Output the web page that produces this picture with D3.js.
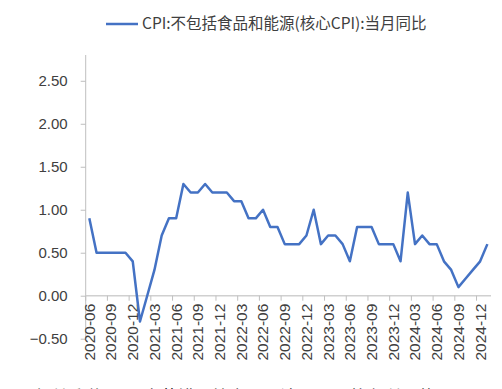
<!DOCTYPE html>
<html>
<head>
<meta charset="utf-8">
<script src="https://cdn.jsdelivr.net/npm/d3@7"></script>
<style>
  body { margin: 0; background: #fff; overflow: hidden; }
  text { font-family: "Noto Sans CJK SC", "Liberation Sans", sans-serif; }
  .num { font-family: "Liberation Sans", "Noto Sans CJK SC", sans-serif; }
</style>
</head>
<body>
<script>
// 核心CPI 当月同比 (%)
var months = [
  "2020-06","2020-07","2020-08","2020-09","2020-10","2020-11","2020-12",
  "2021-01","2021-02","2021-03","2021-04","2021-05","2021-06","2021-07","2021-08","2021-09","2021-10","2021-11","2021-12",
  "2022-01","2022-02","2022-03","2022-04","2022-05","2022-06","2022-07","2022-08","2022-09","2022-10","2022-11","2022-12",
  "2023-01","2023-02","2023-03","2023-04","2023-05","2023-06","2023-07","2023-08","2023-09","2023-10","2023-11","2023-12",
  "2024-01","2024-02","2024-03","2024-04","2024-05","2024-06","2024-07","2024-08","2024-09","2024-10","2024-11","2024-12",
  "2025-01"
];
var coreCpi = [
  0.9, 0.5, 0.5, 0.5, 0.5, 0.5, 0.4,
  -0.3, 0.0, 0.3, 0.7, 0.9, 0.9, 1.3, 1.2, 1.2, 1.3, 1.2, 1.2,
  1.2, 1.1, 1.1, 0.9, 0.9, 1.0, 0.8, 0.8, 0.6, 0.6, 0.6, 0.7,
  1.0, 0.6, 0.7, 0.7, 0.6, 0.4, 0.8, 0.8, 0.8, 0.6, 0.6, 0.6,
  0.4, 1.2, 0.6, 0.7, 0.6, 0.6, 0.4, 0.3, 0.1, 0.2, 0.3, 0.4,
  0.6
];
var yTicks = [-0.5, 0, 0.5, 1.0, 1.5, 2.0, 2.5];
var legendLabel = "CPI:不包括食品和能源(核心CPI):当月同比";
var noteText = "有所反弹，1月春节错月效应，预计2月CPI将有所回落，3月至";

var W = 502, H = 389;
var mLeft = 85.7, mRight = 491, mTop = 55, mBottom = 338.7;
var lineColor = "#4472C4", axisColor = "#BFBFBF", textColor = "#404040";

var svg = d3.select("body").append("svg")
    .attr("width", W)
    .attr("height", H);

var x = d3.scaleBand().domain(months).range([mLeft, mRight]).padding(0);
var y = d3.scaleLinear().domain([-0.5, 2.8]).range([mBottom, mTop]);
var cx = function(m){ return x(m) + x.bandwidth() / 2; };

// y 轴
var yAxis = d3.axisLeft(y)
    .tickValues(yTicks)
    .tickSize(5)
    .tickPadding(13)
    .tickFormat(d3.format(".2f"));
var yg = svg.append("g")
    .attr("transform", "translate(" + mLeft + ",0)")
    .call(yAxis);
yg.select(".domain").attr("stroke", axisColor).attr("d", "M0," + mTop + "V" + mBottom);
yg.selectAll(".tick line").attr("stroke", axisColor);
yg.selectAll(".tick text")
    .attr("class", "num")
    .attr("fill", textColor)
    .style("font-size", "15px");

// x 轴 (在 0 处)
var y0 = y(0);
svg.append("line")
    .attr("x1", mLeft).attr("x2", mRight)
    .attr("y1", y0).attr("y2", y0)
    .attr("stroke", "#D0D0D0")
    .attr("stroke-width", 1.5);

var labelMonths = months.filter(function(d, i){ return i % 3 === 0 && i < 55; });
svg.selectAll(".xtick")
    .data(labelMonths)
    .enter().append("line")
    .attr("x1", function(d){ return x(d); })
    .attr("x2", function(d){ return x(d); })
    .attr("y1", y0).attr("y2", y0 + 5)
    .attr("stroke", axisColor);

svg.selectAll(".xlabel")
    .data(labelMonths)
    .enter().append("text")
    .attr("class", "num")
    .attr("transform", function(d){ return "translate(" + cx(d) + "," + (y0 + 8) + ") rotate(-90)"; })
    .attr("dy", "0.35em")
    .attr("text-anchor", "end")
    .attr("fill", textColor)
    .style("font-size", "15.5px")
    .text(function(d){ return d; });

// 折线
var line = d3.line()
    .x(function(d, i){ return cx(months[i]); })
    .y(function(d){ return y(d); });
svg.append("path")
    .datum(coreCpi)
    .attr("fill", "none")
    .attr("stroke", lineColor)
    .attr("stroke-width", 2.5)
    .attr("stroke-linejoin", "round")
    .attr("d", line);

// 图例
svg.append("line")
    .attr("x1", 106).attr("x2", 138)
    .attr("y1", 24).attr("y2", 24)
    .attr("stroke", lineColor)
    .attr("stroke-width", 2.5);
svg.append("text")
    .attr("x", 142).attr("y", 24)
    .attr("dy", "0.35em")
    .attr("fill", textColor)
    .style("font-size", "15.5px")
    .text(legendLabel);

// 底部被截断的正文
svg.append("text")
    .attr("x", 32).attr("y", 403)
    .attr("fill", "#222")
    .style("font-size", "17px")
    .text(noteText);
</script>
</body>
</html>
